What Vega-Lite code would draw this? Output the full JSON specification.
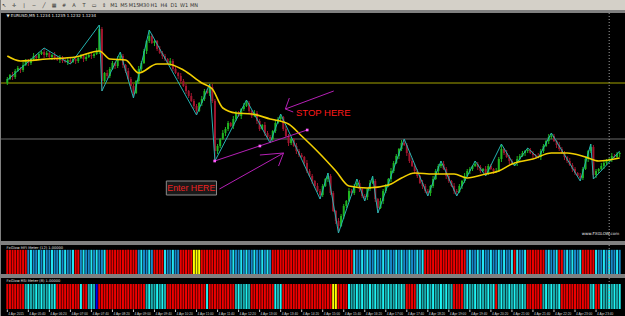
{
"$schema":"https://vega.github.io/schema/vega-lite/v6.json",
"background":"#808080",
"padding":{"left":0,"right":0,"top":0,"bottom":2},
"spacing":2,
"resolve":{"scale":{"color":"independent"}},
"config":{"view":{"stroke":null,"fill":"#000000"}},
"datasets":{
"bars":[
{"i":0,"o":158,"h":164,"l":156,"c":162,"m":"R","r":"R"},
{"i":1,"o":162,"h":167,"l":161,"c":166,"m":"R","r":"R"},
{"i":2,"o":166,"h":169,"l":161,"c":164,"m":"R","r":"R"},
{"i":3,"o":164,"h":172,"l":162,"c":170,"m":"R","r":"R"},
{"i":4,"o":170,"h":175,"l":169,"c":173,"m":"R","r":"R"},
{"i":5,"o":173,"h":174,"l":168,"c":171,"m":"R","r":"R"},
{"i":6,"o":171,"h":179,"l":169,"c":176,"m":"R","r":"R"},
{"i":7,"o":176,"h":182,"l":175,"c":180,"m":"R","r":"T"},
{"i":8,"o":180,"h":182,"l":175,"c":178,"m":"B","r":"C"},
{"i":9,"o":178,"h":183,"l":176,"c":182,"m":"C","r":"T"},
{"i":10,"o":182,"h":188,"l":181,"c":185,"m":"B","r":"T"},
{"i":11,"o":185,"h":187,"l":180,"c":183,"m":"B","r":"C"},
{"i":12,"o":183,"h":189,"l":181,"c":187,"m":"C","r":"T"},
{"i":13,"o":187,"h":190,"l":186,"c":189,"m":"B","r":"C"},
{"i":14,"o":189,"h":193,"l":183,"c":186,"m":"C","r":"T"},
{"i":15,"o":186,"h":190,"l":184,"c":188,"m":"B","r":"T"},
{"i":16,"o":188,"h":190,"l":183,"c":184,"m":"B","r":"C"},
{"i":17,"o":184,"h":187,"l":181,"c":186,"m":"C","r":"T"},
{"i":18,"o":186,"h":189,"l":181,"c":183,"m":"B","r":"C"},
{"i":19,"o":183,"h":185,"l":180,"c":181,"m":"B","r":"R"},
{"i":20,"o":181,"h":186,"l":178,"c":184,"m":"C","r":"R"},
{"i":21,"o":184,"h":185,"l":178,"c":180,"m":"B","r":"R"},
{"i":22,"o":180,"h":183,"l":178,"c":179,"m":"C","r":"R"},
{"i":23,"o":179,"h":183,"l":176,"c":181,"m":"B","r":"R"},
{"i":24,"o":181,"h":183,"l":177,"c":179,"m":"B","r":"R"},
{"i":25,"o":179,"h":183,"l":178,"c":182,"m":"C","r":"R"},
{"i":26,"o":182,"h":185,"l":177,"c":180,"m":"R","r":"R"},
{"i":27,"o":180,"h":185,"l":178,"c":183,"m":"R","r":"R"},
{"i":28,"o":183,"h":187,"l":182,"c":185,"m":"B","r":"C"},
{"i":29,"o":185,"h":186,"l":179,"c":182,"m":"C","r":"R"},
{"i":30,"o":182,"h":187,"l":180,"c":184,"m":"B","r":"R"},
{"i":31,"o":184,"h":188,"l":183,"c":186,"m":"B","r":"T"},
{"i":32,"o":186,"h":188,"l":182,"c":185,"m":"C","r":"C"},
{"i":33,"o":185,"h":188,"l":183,"c":187,"m":"B","r":"T"},
{"i":34,"o":187,"h":193,"l":186,"c":190,"m":"C","r":"N"},
{"i":35,"o":190,"h":216,"l":187,"c":212,"m":"B","r":"R"},
{"i":36,"o":212,"h":214,"l":150,"c":160,"m":"B","r":"R"},
{"i":37,"o":160,"h":169,"l":159,"c":168,"m":"C","r":"R"},
{"i":38,"o":168,"h":171,"l":162,"c":165,"m":"R","r":"R"},
{"i":39,"o":165,"h":174,"l":163,"c":172,"m":"R","r":"R"},
{"i":40,"o":172,"h":180,"l":171,"c":178,"m":"R","r":"R"},
{"i":41,"o":178,"h":179,"l":172,"c":175,"m":"R","r":"R"},
{"i":42,"o":175,"h":185,"l":173,"c":182,"m":"R","r":"R"},
{"i":43,"o":182,"h":189,"l":181,"c":185,"m":"R","r":"R"},
{"i":44,"o":185,"h":187,"l":173,"c":176,"m":"R","r":"R"},
{"i":45,"o":176,"h":177,"l":168,"c":170,"m":"R","r":"R"},
{"i":46,"o":170,"h":173,"l":161,"c":162,"m":"R","r":"R"},
{"i":47,"o":162,"h":164,"l":152,"c":155,"m":"R","r":"R"},
{"i":48,"o":155,"h":157,"l":143,"c":148,"m":"R","r":"R"},
{"i":49,"o":148,"h":161,"l":147,"c":160,"m":"R","r":"R"},
{"i":50,"o":160,"h":175,"l":157,"c":172,"m":"B","r":"R"},
{"i":51,"o":172,"h":180,"l":170,"c":178,"m":"C","r":"R"},
{"i":52,"o":178,"h":192,"l":177,"c":190,"m":"B","r":"R"},
{"i":53,"o":190,"h":201,"l":187,"c":200,"m":"B","r":"T"},
{"i":54,"o":200,"h":211,"l":198,"c":205,"m":"C","r":"C"},
{"i":55,"o":205,"h":207,"l":197,"c":198,"m":"B","r":"T"},
{"i":56,"o":198,"h":202,"l":195,"c":200,"m":"R","r":"T"},
{"i":57,"o":200,"h":201,"l":190,"c":192,"m":"R","r":"C"},
{"i":58,"o":192,"h":195,"l":187,"c":188,"m":"R","r":"T"},
{"i":59,"o":188,"h":190,"l":182,"c":185,"m":"R","r":"C"},
{"i":60,"o":185,"h":187,"l":180,"c":182,"m":"C","r":"T"},
{"i":61,"o":182,"h":183,"l":177,"c":178,"m":"B","r":"R"},
{"i":62,"o":178,"h":183,"l":175,"c":180,"m":"B","r":"R"},
{"i":63,"o":180,"h":182,"l":170,"c":172,"m":"C","r":"R"},
{"i":64,"o":172,"h":174,"l":167,"c":168,"m":"B","r":"R"},
{"i":65,"o":168,"h":169,"l":162,"c":165,"m":"B","r":"R"},
{"i":66,"o":165,"h":168,"l":158,"c":160,"m":"R","r":"R"},
{"i":67,"o":160,"h":162,"l":154,"c":155,"m":"R","r":"R"},
{"i":68,"o":155,"h":157,"l":147,"c":150,"m":"R","r":"R"},
{"i":69,"o":150,"h":151,"l":143,"c":145,"m":"R","r":"R"},
{"i":70,"o":145,"h":148,"l":139,"c":140,"m":"R","r":"R"},
{"i":71,"o":140,"h":142,"l":132,"c":135,"m":"Y","r":"R"},
{"i":72,"o":135,"h":137,"l":126,"c":130,"m":"Y","r":"R"},
{"i":73,"o":130,"h":139,"l":129,"c":138,"m":"Y","r":"R"},
{"i":74,"o":138,"h":145,"l":135,"c":142,"m":"R","r":"R"},
{"i":75,"o":142,"h":152,"l":140,"c":150,"m":"R","r":"R"},
{"i":76,"o":150,"h":152,"l":147,"c":148,"m":"R","r":"C"},
{"i":77,"o":148,"h":157,"l":145,"c":154,"m":"R","r":"R"},
{"i":78,"o":154,"h":157,"l":138,"c":140,"m":"R","r":"R"},
{"i":79,"o":140,"h":142,"l":80,"c":90,"m":"R","r":"R"},
{"i":80,"o":90,"h":97,"l":87,"c":95,"m":"R","r":"R"},
{"i":81,"o":95,"h":103,"l":93,"c":102,"m":"R","r":"R"},
{"i":82,"o":102,"h":111,"l":101,"c":108,"m":"R","r":"R"},
{"i":83,"o":108,"h":114,"l":105,"c":112,"m":"R","r":"R"},
{"i":84,"o":112,"h":120,"l":110,"c":118,"m":"R","r":"R"},
{"i":85,"o":118,"h":119,"l":114,"c":115,"m":"B","r":"R"},
{"i":86,"o":115,"h":125,"l":112,"c":122,"m":"C","r":"R"},
{"i":87,"o":122,"h":130,"l":120,"c":128,"m":"B","r":"T"},
{"i":88,"o":128,"h":130,"l":124,"c":125,"m":"B","r":"C"},
{"i":89,"o":125,"h":133,"l":122,"c":132,"m":"C","r":"T"},
{"i":90,"o":132,"h":138,"l":130,"c":135,"m":"B","r":"T"},
{"i":91,"o":135,"h":141,"l":134,"c":138,"m":"C","r":"C"},
{"i":92,"o":138,"h":140,"l":127,"c":130,"m":"B","r":"T"},
{"i":93,"o":130,"h":131,"l":123,"c":125,"m":"B","r":"R"},
{"i":94,"o":125,"h":131,"l":124,"c":128,"m":"C","r":"R"},
{"i":95,"o":128,"h":130,"l":117,"c":120,"m":"B","r":"R"},
{"i":96,"o":120,"h":122,"l":110,"c":112,"m":"B","r":"R"},
{"i":97,"o":112,"h":117,"l":111,"c":116,"m":"C","r":"R"},
{"i":98,"o":116,"h":119,"l":105,"c":108,"m":"B","r":"R"},
{"i":99,"o":108,"h":110,"l":102,"c":104,"m":"C","r":"R"},
{"i":100,"o":104,"h":106,"l":98,"c":102,"m":"B","r":"R"},
{"i":101,"o":102,"h":111,"l":99,"c":110,"m":"R","r":"R"},
{"i":102,"o":110,"h":121,"l":108,"c":118,"m":"R","r":"C"},
{"i":103,"o":118,"h":124,"l":117,"c":122,"m":"R","r":"T"},
{"i":104,"o":122,"h":127,"l":119,"c":124,"m":"R","r":"C"},
{"i":105,"o":124,"h":125,"l":110,"c":112,"m":"R","r":"R"},
{"i":106,"o":112,"h":115,"l":104,"c":105,"m":"R","r":"R"},
{"i":107,"o":105,"h":107,"l":95,"c":98,"m":"R","r":"R"},
{"i":108,"o":98,"h":104,"l":96,"c":102,"m":"R","r":"R"},
{"i":109,"o":102,"h":103,"l":94,"c":95,"m":"R","r":"R"},
{"i":110,"o":95,"h":98,"l":87,"c":90,"m":"R","r":"R"},
{"i":111,"o":90,"h":92,"l":84,"c":86,"m":"R","r":"R"},
{"i":112,"o":86,"h":88,"l":83,"c":84,"m":"R","r":"R"},
{"i":113,"o":84,"h":85,"l":75,"c":78,"m":"R","r":"R"},
{"i":114,"o":78,"h":81,"l":68,"c":70,"m":"R","r":"R"},
{"i":115,"o":70,"h":72,"l":64,"c":65,"m":"R","r":"R"},
{"i":116,"o":65,"h":67,"l":57,"c":60,"m":"R","r":"R"},
{"i":117,"o":60,"h":61,"l":53,"c":55,"m":"R","r":"R"},
{"i":118,"o":55,"h":58,"l":49,"c":50,"m":"R","r":"R"},
{"i":119,"o":50,"h":52,"l":42,"c":46,"m":"R","r":"R"},
{"i":120,"o":46,"h":57,"l":44,"c":55,"m":"R","r":"R"},
{"i":121,"o":55,"h":63,"l":54,"c":62,"m":"R","r":"R"},
{"i":122,"o":62,"h":68,"l":59,"c":65,"m":"R","r":"R"},
{"i":123,"o":65,"h":67,"l":46,"c":48,"m":"R","r":"R"},
{"i":124,"o":48,"h":50,"l":29,"c":30,"m":"R","r":"Y"},
{"i":125,"o":30,"h":31,"l":17,"c":20,"m":"R","r":"Y"},
{"i":126,"o":20,"h":23,"l":8,"c":15,"m":"R","r":"R"},
{"i":127,"o":15,"h":27,"l":14,"c":25,"m":"R","r":"R"},
{"i":128,"o":25,"h":37,"l":22,"c":35,"m":"R","r":"R"},
{"i":129,"o":35,"h":41,"l":33,"c":40,"m":"R","r":"R"},
{"i":130,"o":40,"h":53,"l":39,"c":50,"m":"R","r":"C"},
{"i":131,"o":50,"h":52,"l":45,"c":48,"m":"R","r":"T"},
{"i":132,"o":48,"h":57,"l":46,"c":55,"m":"C","r":"T"},
{"i":133,"o":55,"h":62,"l":54,"c":58,"m":"B","r":"C"},
{"i":134,"o":58,"h":61,"l":49,"c":52,"m":"B","r":"T"},
{"i":135,"o":52,"h":54,"l":43,"c":45,"m":"C","r":"C"},
{"i":136,"o":45,"h":47,"l":40,"c":44,"m":"B","r":"T"},
{"i":137,"o":44,"h":53,"l":41,"c":52,"m":"C","r":"T"},
{"i":138,"o":52,"h":61,"l":50,"c":58,"m":"B","r":"C"},
{"i":139,"o":58,"h":65,"l":57,"c":60,"m":"B","r":"T"},
{"i":140,"o":60,"h":62,"l":39,"c":42,"m":"C","r":"C"},
{"i":141,"o":42,"h":43,"l":28,"c":33,"m":"B","r":"T"},
{"i":142,"o":33,"h":43,"l":32,"c":40,"m":"B","r":"T"},
{"i":143,"o":40,"h":52,"l":37,"c":50,"m":"C","r":"C"},
{"i":144,"o":50,"h":57,"l":48,"c":55,"m":"B","r":"T"},
{"i":145,"o":55,"h":63,"l":54,"c":62,"m":"C","r":"C"},
{"i":146,"o":62,"h":73,"l":59,"c":70,"m":"B","r":"T"},
{"i":147,"o":70,"h":80,"l":68,"c":78,"m":"B","r":"T"},
{"i":148,"o":78,"h":87,"l":77,"c":85,"m":"C","r":"C"},
{"i":149,"o":85,"h":93,"l":82,"c":92,"m":"B","r":"T"},
{"i":150,"o":92,"h":101,"l":90,"c":98,"m":"C","r":"C"},
{"i":151,"o":98,"h":102,"l":95,"c":96,"m":"B","r":"T"},
{"i":152,"o":96,"h":98,"l":85,"c":88,"m":"B","r":"R"},
{"i":153,"o":88,"h":89,"l":78,"c":80,"m":"C","r":"R"},
{"i":154,"o":80,"h":83,"l":74,"c":75,"m":"B","r":"R"},
{"i":155,"o":75,"h":77,"l":67,"c":70,"m":"B","r":"R"},
{"i":156,"o":70,"h":72,"l":63,"c":65,"m":"C","r":"T"},
{"i":157,"o":65,"h":66,"l":57,"c":58,"m":"B","r":"C"},
{"i":158,"o":58,"h":61,"l":52,"c":55,"m":"C","r":"T"},
{"i":159,"o":55,"h":57,"l":48,"c":50,"m":"R","r":"T"},
{"i":160,"o":50,"h":52,"l":45,"c":48,"m":"R","r":"C"},
{"i":161,"o":48,"h":56,"l":45,"c":55,"m":"R","r":"T"},
{"i":162,"o":55,"h":65,"l":53,"c":62,"m":"R","r":"C"},
{"i":163,"o":62,"h":72,"l":61,"c":70,"m":"R","r":"T"},
{"i":164,"o":70,"h":77,"l":67,"c":75,"m":"R","r":"T"},
{"i":165,"o":75,"h":80,"l":73,"c":77,"m":"R","r":"C"},
{"i":166,"o":77,"h":80,"l":71,"c":72,"m":"R","r":"T"},
{"i":167,"o":72,"h":74,"l":62,"c":65,"m":"R","r":"C"},
{"i":168,"o":65,"h":67,"l":58,"c":60,"m":"R","r":"T"},
{"i":169,"o":60,"h":61,"l":54,"c":55,"m":"R","r":"T"},
{"i":170,"o":55,"h":58,"l":47,"c":50,"m":"R","r":"R"},
{"i":171,"o":50,"h":52,"l":45,"c":49,"m":"R","r":"R"},
{"i":172,"o":49,"h":57,"l":48,"c":55,"m":"R","r":"R"},
{"i":173,"o":55,"h":61,"l":52,"c":60,"m":"R","r":"R"},
{"i":174,"o":60,"h":68,"l":58,"c":65,"m":"R","r":"T"},
{"i":175,"o":65,"h":72,"l":64,"c":70,"m":"B","r":"C"},
{"i":176,"o":70,"h":74,"l":67,"c":72,"m":"C","r":"T"},
{"i":177,"o":72,"h":76,"l":70,"c":75,"m":"B","r":"T"},
{"i":178,"o":75,"h":80,"l":74,"c":77,"m":"B","r":"C"},
{"i":179,"o":77,"h":79,"l":71,"c":74,"m":"C","r":"T"},
{"i":180,"o":74,"h":76,"l":68,"c":70,"m":"B","r":"C"},
{"i":181,"o":70,"h":73,"l":69,"c":72,"m":"C","r":"T"},
{"i":182,"o":72,"h":75,"l":65,"c":68,"m":"B","r":"T"},
{"i":183,"o":68,"h":77,"l":66,"c":75,"m":"B","r":"C"},
{"i":184,"o":75,"h":77,"l":71,"c":72,"m":"C","r":"T"},
{"i":185,"o":72,"h":73,"l":67,"c":70,"m":"B","r":"C"},
{"i":186,"o":70,"h":73,"l":68,"c":70,"m":"B","r":"R"},
{"i":187,"o":70,"h":84,"l":69,"c":82,"m":"C","r":"T"},
{"i":188,"o":82,"h":97,"l":79,"c":92,"m":"B","r":"C"},
{"i":189,"o":92,"h":93,"l":86,"c":88,"m":"C","r":"T"},
{"i":190,"o":88,"h":91,"l":83,"c":84,"m":"B","r":"T"},
{"i":191,"o":84,"h":86,"l":77,"c":80,"m":"B","r":"C"},
{"i":192,"o":80,"h":82,"l":76,"c":78,"m":"C","r":"T"},
{"i":193,"o":78,"h":79,"l":75,"c":78,"m":"R","r":"C"},
{"i":194,"o":78,"h":85,"l":75,"c":82,"m":"C","r":"T"},
{"i":195,"o":82,"h":87,"l":80,"c":85,"m":"B","r":"T"},
{"i":196,"o":85,"h":90,"l":84,"c":88,"m":"B","r":"C"},
{"i":197,"o":88,"h":91,"l":85,"c":90,"m":"C","r":"T"},
{"i":198,"o":90,"h":93,"l":88,"c":91,"m":"R","r":"R"},
{"i":199,"o":91,"h":93,"l":87,"c":88,"m":"R","r":"R"},
{"i":200,"o":88,"h":90,"l":83,"c":86,"m":"R","r":"R"},
{"i":201,"o":86,"h":87,"l":83,"c":85,"m":"R","r":"R"},
{"i":202,"o":85,"h":88,"l":83,"c":84,"m":"R","r":"R"},
{"i":203,"o":84,"h":92,"l":81,"c":90,"m":"R","r":"R"},
{"i":204,"o":90,"h":97,"l":88,"c":95,"m":"R","r":"T"},
{"i":205,"o":95,"h":101,"l":94,"c":100,"m":"B","r":"C"},
{"i":206,"o":100,"h":107,"l":97,"c":104,"m":"C","r":"T"},
{"i":207,"o":104,"h":108,"l":102,"c":105,"m":"B","r":"C"},
{"i":208,"o":105,"h":107,"l":99,"c":100,"m":"B","r":"T"},
{"i":209,"o":100,"h":101,"l":93,"c":96,"m":"C","r":"T"},
{"i":210,"o":96,"h":99,"l":90,"c":92,"m":"R","r":"C"},
{"i":211,"o":92,"h":94,"l":87,"c":88,"m":"R","r":"R"},
{"i":212,"o":88,"h":90,"l":81,"c":84,"m":"B","r":"R"},
{"i":213,"o":84,"h":85,"l":78,"c":80,"m":"C","r":"R"},
{"i":214,"o":80,"h":83,"l":75,"c":76,"m":"B","r":"R"},
{"i":215,"o":76,"h":78,"l":69,"c":72,"m":"C","r":"R"},
{"i":216,"o":72,"h":74,"l":66,"c":68,"m":"B","r":"R"},
{"i":217,"o":68,"h":69,"l":64,"c":65,"m":"B","r":"R"},
{"i":218,"o":65,"h":68,"l":60,"c":63,"m":"C","r":"R"},
{"i":219,"o":63,"h":74,"l":61,"c":72,"m":"R","r":"R"},
{"i":220,"o":72,"h":84,"l":71,"c":82,"m":"R","r":"R"},
{"i":221,"o":82,"h":91,"l":79,"c":90,"m":"R","r":"R"},
{"i":222,"o":90,"h":97,"l":88,"c":94,"m":"R","r":"T"},
{"i":223,"o":94,"h":96,"l":62,"c":66,"m":"R","r":"C"},
{"i":224,"o":66,"h":72,"l":63,"c":70,"m":"C","r":"R"},
{"i":225,"o":70,"h":73,"l":68,"c":72,"m":"B","r":"R"},
{"i":226,"o":72,"h":78,"l":71,"c":75,"m":"B","r":"C"},
{"i":227,"o":75,"h":80,"l":72,"c":78,"m":"C","r":"T"},
{"i":228,"o":78,"h":82,"l":76,"c":80,"m":"B","r":"T"},
{"i":229,"o":80,"h":83,"l":79,"c":82,"m":"C","r":"C"},
{"i":230,"o":82,"h":88,"l":79,"c":85,"m":"B","r":"T"},
{"i":231,"o":85,"h":87,"l":83,"c":84,"m":"B","r":"C"},
{"i":232,"o":84,"h":89,"l":83,"c":87,"m":"C","r":"T"},
{"i":233,"o":87,"h":89,"l":84,"c":88,"m":"B","r":"C"}
],
"ma":[
{"i":0,"v":185},{"i":5,"v":180},{"i":15,"v":182},{"i":26,"v":184},{"i":35,"v":190},{"i":39,"v":182},{"i":45,"v":181},{"i":50,"v":168},{"i":57,"v":177},{"i":61,"v":177},{"i":67,"v":171},{"i":74,"v":158},{"i":78,"v":152},{"i":82,"v":133},{"i":87,"v":128},{"i":93,"v":127},{"i":100,"v":122},{"i":107,"v":117},{"i":112,"v":105},{"i":119,"v":87},{"i":125,"v":70},{"i":130,"v":55},{"i":137,"v":53},{"i":145,"v":56},{"i":150,"v":63},{"i":155,"v":68},{"i":162,"v":67},{"i":170,"v":67},{"i":175,"v":63},{"i":182,"v":67},{"i":187,"v":70},{"i":192,"v":77},{"i":200,"v":82},{"i":207,"v":88},{"i":213,"v":88},{"i":220,"v":84},{"i":225,"v":80},{"i":233,"v":83}
],
"zz":[
{"i":0,"v":161},{"i":14,"v":193},{"i":24,"v":177},{"i":35,"v":216},{"i":36,"v":150},{"i":43,"v":189},{"i":48,"v":143},{"i":54,"v":211},{"i":72,"v":126},{"i":77,"v":157},{"i":79,"v":80},{"i":91,"v":141},{"i":100,"v":98},{"i":104,"v":127},{"i":119,"v":42},{"i":122,"v":68},{"i":126,"v":8},{"i":133,"v":62},{"i":136,"v":40},{"i":139,"v":65},{"i":141,"v":28},{"i":151,"v":102},{"i":160,"v":45},{"i":165,"v":80},{"i":171,"v":45},{"i":178,"v":80},{"i":182,"v":65},{"i":188,"v":97},{"i":193,"v":75},{"i":198,"v":93},{"i":202,"v":83},{"i":207,"v":108},{"i":218,"v":60},{"i":222,"v":97},{"i":223,"v":62},{"i":233,"v":90}
],
"times":[
{"i":0,"t":"4 Apr 2015"},{"i":8,"t":"4 Apr 05:40"},{"i":16,"t":"4 Apr 06:20"},{"i":24,"t":"4 Apr 07:00"},{"i":32,"t":"4 Apr 07:40"},{"i":40,"t":"4 Apr 08:20"},{"i":48,"t":"4 Apr 09:00"},{"i":56,"t":"4 Apr 09:40"},{"i":64,"t":"4 Apr 10:20"},{"i":72,"t":"4 Apr 11:00"},{"i":80,"t":"4 Apr 11:40"},{"i":88,"t":"4 Apr 12:20"},{"i":96,"t":"4 Apr 13:00"},{"i":104,"t":"4 Apr 13:40"},{"i":112,"t":"4 Apr 14:20"},{"i":120,"t":"4 Apr 15:00"},{"i":128,"t":"4 Apr 15:40"},{"i":136,"t":"4 Apr 16:20"},{"i":144,"t":"4 Apr 17:00"},{"i":152,"t":"4 Apr 17:40"},{"i":160,"t":"4 Apr 18:20"},{"i":168,"t":"4 Apr 19:00"},{"i":176,"t":"4 Apr 19:40"},{"i":184,"t":"4 Apr 20:20"},{"i":192,"t":"4 Apr 21:00"},{"i":200,"t":"4 Apr 21:40"},{"i":208,"t":"4 Apr 22:20"},{"i":216,"t":"4 Apr 23:00"},{"i":224,"t":"4 Apr 23:40"}
]
},
"vconcat":[
{
"width":625,"height":10,
"view":{"fill":"#d4d0c8","stroke":null},
"data":{"values":[
{"k":1,"t":"↖"},{"k":2,"t":"✛"},{"k":3,"t":"|"},{"k":4,"t":"─"},{"k":5,"t":"╱"},{"k":6,"t":"▦"},{"k":7,"t":"#"},{"k":8,"t":"A"},{"k":9,"t":"T"},{"k":10,"t":"▭"},{"k":11,"t":"⇕"},{"k":12,"t":"M1"},{"k":13,"t":"M5"},{"k":14,"t":"M15"},{"k":15,"t":"M30"},{"k":16,"t":"H1"},{"k":17,"t":"H4"},{"k":18,"t":"D1"},{"k":19,"t":"W1"},{"k":20,"t":"MN"}
]},
"mark":{"type":"text","fontSize":5,"color":"#303030","font":"DejaVu Sans"},
"encoding":{
"x":{"field":"k","type":"ordinal","axis":null,"scale":{"type":"point","range":[3,193],"padding":0}},
"text":{"field":"t"}
}
},
{
"width":625,"height":228,
"layer":[
{"data":{"values":[{"lvl":"resistance","v":158},{"lvl":"support","v":102}]},
 "mark":{"type":"rule","strokeWidth":1},
 "encoding":{"y":{"field":"v","type":"quantitative","scale":{"domain":[0,228],"nice":false,"zero":false},"axis":null},
  "color":{"field":"lvl","type":"nominal","scale":{"domain":["resistance","support"],"range":["#a3a300","#6b6b6b"]},"legend":null}}},
{"data":{"values":[{"i":229}]},
 "mark":{"type":"rule","strokeWidth":1,"strokeDash":[1,2],"color":"#a0a0a0"},
 "encoding":{"x":{"field":"i","type":"quantitative","scale":{"domain":[-0.5,233.5],"nice":false,"zero":false},"axis":null}}},
{"data":{"name":"bars"},
 "mark":{"type":"rule","strokeWidth":1},
 "encoding":{"x":{"field":"i","type":"quantitative","scale":{"domain":[-0.5,233.5],"nice":false,"zero":false},"axis":null},
  "y":{"field":"l","type":"quantitative","scale":{"domain":[0,228],"nice":false,"zero":false},"axis":null},
  "y2":{"field":"h"},
  "color":{"condition":{"test":"datum.c >= datum.o","value":"#1fb41f"},"value":"#a0162e"}}},
{"data":{"name":"bars"},
 "mark":{"type":"bar","size":2,"orient":"vertical"},
 "encoding":{"x":{"field":"i","type":"quantitative","scale":{"domain":[-0.5,233.5],"nice":false,"zero":false},"axis":null},
  "y":{"field":"o","type":"quantitative","scale":{"domain":[0,228],"nice":false,"zero":false},"axis":null},
  "y2":{"field":"c"},
  "color":{"condition":{"test":"datum.c >= datum.o","value":"#1fb41f"},"value":"#a0162e"}}},
{"data":{"name":"zz"},
 "mark":{"type":"line","strokeWidth":1,"color":"#23b3b0"},
 "encoding":{"x":{"field":"i","type":"quantitative","scale":{"domain":[-0.5,233.5],"nice":false,"zero":false},"axis":null},
  "y":{"field":"v","type":"quantitative","scale":{"domain":[0,228],"nice":false,"zero":false},"axis":null}}},
{"data":{"name":"ma"},
 "mark":{"type":"line","strokeWidth":1.6,"color":"#f2cf00","interpolate":"monotone"},
 "encoding":{"x":{"field":"i","type":"quantitative","scale":{"domain":[-0.5,233.5],"nice":false,"zero":false},"axis":null},
  "y":{"field":"v","type":"quantitative","scale":{"domain":[0,228],"nice":false,"zero":false},"axis":null}}},
{"data":{"values":[
  {"i":78.9,"v":80,"i2":114.1,"v2":111},
  {"i":80.7,"v":52,"i2":105.1,"v2":88},
  {"i":105.1,"v":88,"i2":96.1,"v2":86},
  {"i":105.1,"v":88,"i2":103.2,"v2":75},
  {"i":124.2,"v":150,"i2":105.8,"v2":132},
  {"i":105.8,"v":132,"i2":107.3,"v2":143},
  {"i":105.8,"v":132,"i2":108.8,"v2":129}
 ]},
 "mark":{"type":"rule","strokeWidth":1,"color":"#b520b5"},
 "encoding":{"x":{"field":"i","type":"quantitative","scale":{"domain":[-0.5,233.5],"nice":false,"zero":false},"axis":null},
  "x2":{"field":"i2"},
  "y":{"field":"v","type":"quantitative","scale":{"domain":[0,228],"nice":false,"zero":false},"axis":null},
  "y2":{"field":"v2"}}},
{"data":{"values":[{"i":78.9,"v":80},{"i":96.1,"v":95},{"i":114.1,"v":111}]},
 "mark":{"type":"point","shape":"square","filled":true,"size":7,"color":"#ff5cff","opacity":1},
 "encoding":{"x":{"field":"i","type":"quantitative","scale":{"domain":[-0.5,233.5],"nice":false,"zero":false},"axis":null},
  "y":{"field":"v","type":"quantitative","scale":{"domain":[0,228],"nice":false,"zero":false},"axis":null}}},
{"data":{"values":[{"i":60.5,"i2":79.6,"v":46,"v2":60}]},
 "mark":{"type":"rect","fill":"#1a1a1a","stroke":"#8a8a8a","strokeWidth":1},
 "encoding":{"x":{"field":"i","type":"quantitative","scale":{"domain":[-0.5,233.5],"nice":false,"zero":false},"axis":null},
  "x2":{"field":"i2"},
  "y":{"field":"v","type":"quantitative","scale":{"domain":[0,228],"nice":false,"zero":false},"axis":null},
  "y2":{"field":"v2"}}},
{"data":{"values":[{"i":70,"v":53,"t":"Enter HERE"}]},
 "mark":{"type":"text","fontSize":8.8,"font":"Liberation Sans","color":"#ee2222","baseline":"middle"},
 "encoding":{"x":{"field":"i","type":"quantitative","scale":{"domain":[-0.5,233.5],"nice":false,"zero":false},"axis":null},
  "y":{"field":"v","type":"quantitative","scale":{"domain":[0,228],"nice":false,"zero":false},"axis":null},
  "text":{"field":"t"}}},
{"data":{"values":[{"i":120.2,"v":128,"t":"STOP HERE"}]},
 "mark":{"type":"text","fontSize":9.5,"font":"Liberation Sans","color":"#ff1a1a","baseline":"middle"},
 "encoding":{"x":{"field":"i","type":"quantitative","scale":{"domain":[-0.5,233.5],"nice":false,"zero":false},"axis":null},
  "y":{"field":"v","type":"quantitative","scale":{"domain":[0,228],"nice":false,"zero":false},"axis":null},
  "text":{"field":"t"}}},
{"data":{"values":[{"i":-0.3,"v":225,"t":"▼ EURUSD,M5  1.1234 1.1235 1.1232 1.1234"}]},
 "mark":{"type":"text","fontSize":4,"font":"DejaVu Sans","color":"#e8e8e8","baseline":"middle","align":"left"},
 "encoding":{"x":{"field":"i","type":"quantitative","scale":{"domain":[-0.5,233.5],"nice":false,"zero":false},"axis":null},
  "y":{"field":"v","type":"quantitative","scale":{"domain":[0,228],"nice":false,"zero":false},"axis":null},
  "text":{"field":"t"}}},
{"data":{"values":[{"i":232.8,"v":7,"t":"www.FXGLOW.com"}]},
 "mark":{"type":"text","fontSize":4,"font":"DejaVu Sans","color":"#e8e8e8","baseline":"middle","align":"right"},
 "encoding":{"x":{"field":"i","type":"quantitative","scale":{"domain":[-0.5,233.5],"nice":false,"zero":false},"axis":null},
  "y":{"field":"v","type":"quantitative","scale":{"domain":[0,228],"nice":false,"zero":false},"axis":null},
  "text":{"field":"t"}}}
]
},
{
"width":625,"height":29,
"layer":[
{"data":{"name":"bars"},
 "mark":{"type":"bar","size":2,"orient":"vertical"},
 "encoding":{"x":{"field":"i","type":"quantitative","scale":{"domain":[-0.5,233.5],"nice":false,"zero":false},"axis":null},
  "y":{"datum":1,"type":"quantitative","scale":{"domain":[0,1.2],"nice":false,"zero":false},"axis":null},
  "y2":{"datum":0},
  "color":{"field":"m","type":"nominal","scale":{"domain":["R","B","C","Y"],"range":["#ee0000","#1787c8","#22e4f2","#ffff00"]},"legend":null}}},
{"data":{"values":[{"i":229}]},
 "mark":{"type":"rule","strokeWidth":1,"strokeDash":[1,2],"color":"#a0a0a0"},
 "encoding":{"x":{"field":"i","type":"quantitative","scale":{"domain":[-0.5,233.5],"nice":false,"zero":false},"axis":null}}},
{"data":{"values":[{"i":-0.3,"lvl":1.2,"t":"FxGlow MFI Meter (12) 1.00000"}]},
 "mark":{"type":"text","fontSize":3.6,"font":"DejaVu Sans","color":"#e0e0e0","baseline":"top","align":"left","dy":1},
 "encoding":{"x":{"field":"i","type":"quantitative","scale":{"domain":[-0.5,233.5],"nice":false,"zero":false},"axis":null},
  "y":{"field":"lvl","type":"quantitative","scale":{"domain":[0,1.2],"nice":false,"zero":false},"axis":null},
  "text":{"field":"t"}}}
]
},
{
"width":625,"height":41,
"layer":[
{"data":{"name":"bars"},
 "mark":{"type":"bar","size":2,"orient":"vertical"},
 "encoding":{"x":{"field":"i","type":"quantitative","scale":{"domain":[-0.5,233.5],"nice":false,"zero":false},"axis":null},
  "y":{"datum":1,"type":"quantitative","scale":{"domain":[-0.4,1.24],"nice":false,"zero":false},"axis":null},
  "y2":{"datum":0},
  "color":{"field":"r","type":"nominal","scale":{"domain":["R","T","C","Y","N"],"range":["#ee0000","#1aaeb0","#1ef2f2","#ffff00","#0000ee"]},"legend":null}}},
{"data":{"values":[{"i":229}]},
 "mark":{"type":"rule","strokeWidth":1,"strokeDash":[1,2],"color":"#a0a0a0"},
 "encoding":{"x":{"field":"i","type":"quantitative","scale":{"domain":[-0.5,233.5],"nice":false,"zero":false},"axis":null},
  "y":{"datum":1.24,"type":"quantitative","scale":{"domain":[-0.4,1.24],"nice":false,"zero":false},"axis":null},
  "y2":{"datum":0}}},
{"data":{"values":[{"i":-0.3,"lvl":1.24,"t":"FxGlow RSI Meter (8) 1.00000"}]},
 "mark":{"type":"text","fontSize":3.6,"font":"DejaVu Sans","color":"#e0e0e0","baseline":"top","align":"left","dy":1},
 "encoding":{"x":{"field":"i","type":"quantitative","scale":{"domain":[-0.5,233.5],"nice":false,"zero":false},"axis":null},
  "y":{"field":"lvl","type":"quantitative","scale":{"domain":[-0.4,1.24],"nice":false,"zero":false},"axis":null},
  "text":{"field":"t"}}},
{"data":{"name":"times"},
 "mark":{"type":"rule","strokeWidth":1,"color":"#c8c8c8"},
 "encoding":{"x":{"field":"i","type":"quantitative","scale":{"domain":[-0.5,233.5],"nice":false,"zero":false},"axis":null},
  "y":{"datum":-0.02,"type":"quantitative","scale":{"domain":[-0.4,1.24],"nice":false,"zero":false},"axis":null},
  "y2":{"datum":-0.12}}},
{"data":{"name":"times"},
 "mark":{"type":"text","fontSize":3.2,"font":"Liberation Sans","color":"#d8d8d8","baseline":"middle","align":"left","dx":1},
 "encoding":{"x":{"field":"i","type":"quantitative","scale":{"domain":[-0.5,233.5],"nice":false,"zero":false},"axis":null},
  "y":{"datum":-0.2,"type":"quantitative","scale":{"domain":[-0.4,1.24],"nice":false,"zero":false},"axis":null},
  "text":{"field":"t"}}}
]
}
]
}
